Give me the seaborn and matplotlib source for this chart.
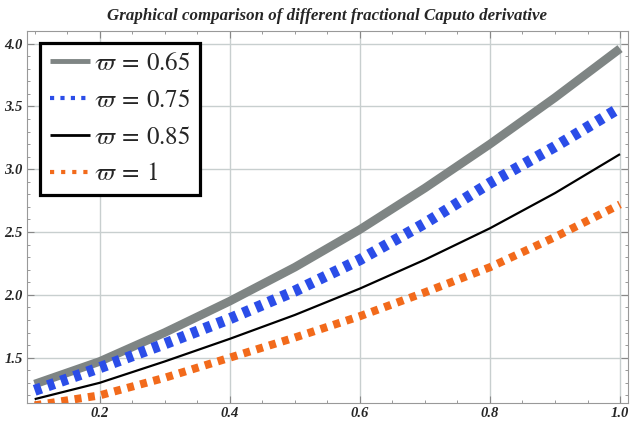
import numpy as np
import pandas as pd
import matplotlib
matplotlib.use("Agg")
import matplotlib.pyplot as plt
from matplotlib.ticker import MultipleLocator
import seaborn as sns

# values
x_vals = [0.1, 0.2, 0.3, 0.4, 0.5, 0.6, 0.7, 0.8, 0.9, 1.0]
w065 = [1.29, 1.47, 1.70, 1.95, 2.22, 2.52, 2.85, 3.20, 3.57, 3.96]
w075 = [1.24, 1.42, 1.61, 1.81, 2.03, 2.28, 2.57, 2.89, 3.18, 3.49]
w085 = [1.17, 1.30, 1.47, 1.65, 1.84, 2.05, 2.28, 2.53, 2.81, 3.12]
w100 = [1.12, 1.20, 1.34, 1.50, 1.66, 1.83, 2.02, 2.22, 2.46, 2.72]

labels = [r"$\varpi\:=\:0.65$", r"$\varpi\:=\:0.75$", r"$\varpi\:=\:0.85$", r"$\varpi\:=\:1$"]
colors = ["#7f8584", "#2b4de8", "#000000", "#f26a1b"]

sns.set_style("ticks")
plt.rcParams["mathtext.fontset"] = "stix"
plt.rcParams["font.family"] = ["Liberation Serif", "DejaVu Serif"]
plt.rcParams["lines.scale_dashes"] = False

df = pd.DataFrame({"x": x_vals * 4,
                   "y": w065 + w075 + w085 + w100,
                   "series": sum([[l] * len(x_vals) for l in labels], [])})

fig = plt.figure(figsize=(6.4, 4.25), dpi=100)
ax = fig.add_axes([0.042, 0.052, 0.939, 0.875])

# line width / dash pattern in points
styles = [
    dict(lw=6.2, dashes=None),
    dict(lw=8.0, dashes=(5.0, 5.0)),
    dict(lw=1.6, dashes=None),
    dict(lw=5.8, dashes=(5.0, 4.7)),
]
for lab, col, st in zip(labels, colors, styles):
    sub = df[df["series"] == lab]
    sns.lineplot(data=sub, x="x", y="y", ax=ax, color=col, label=lab, lw=st["lw"])
    line = ax.lines[-1]
    line.set_solid_capstyle("butt")
    line.set_dash_capstyle("butt")
    if st["dashes"]:
        line.set_dashes(st["dashes"])

ax.set_xlim(0.088, 1.012)
ax.set_ylim(1.14, 4.1)
ax.xaxis.set_major_locator(MultipleLocator(0.2))
ax.xaxis.set_minor_locator(MultipleLocator(0.05))
ax.yaxis.set_major_locator(MultipleLocator(0.5))
ax.yaxis.set_minor_locator(MultipleLocator(0.1))
ax.set_xticklabels([f"{t:.1f}" for t in ax.get_xticks()])
ax.set_yticklabels([f"{t:.1f}" for t in ax.get_yticks()])
ax.set_xlabel("")
ax.set_ylabel("")
ax.grid(True, which="major", color="#c8cfcf", lw=1)
ax.tick_params(which="both", direction="in", top=True, right=True, color="#888888")
ax.tick_params(which="major", length=5, labelsize=10.5, pad=3)
ax.tick_params(which="minor", length=2.5)
for t in ax.get_xticklabels() + ax.get_yticklabels():
    t.set_fontweight("bold")
    t.set_fontstyle("italic")
for s in ax.spines.values():
    s.set_color("#999999")

ax.set_title("Graphical comparison of different fractional Caputo derivative",
             fontsize=12.2, fontweight="bold", fontstyle="italic", pad=8)

leg = ax.legend(loc="upper left", bbox_to_anchor=(40 / 640, 1 - 43 / 425),
                bbox_transform=fig.transFigure, borderaxespad=0, fontsize=18,
                handlelength=1.6, handletextpad=0.2, labelspacing=0.57,
                fancybox=False, framealpha=1, borderpad=0.38)
leg.get_frame().set_edgecolor("black")
leg.get_frame().set_linewidth(2.3)
hl = leg.get_lines()
hl[0].set_linewidth(3.5)
hl[1].set_linewidth(3.0)
hl[1].set_dashes((3.0, 4.5))
hl[2].set_linewidth(2.0)
hl[3].set_linewidth(3.0)
hl[3].set_dashes((3.0, 5.0))

fig.savefig("out.png", dpi=100)
